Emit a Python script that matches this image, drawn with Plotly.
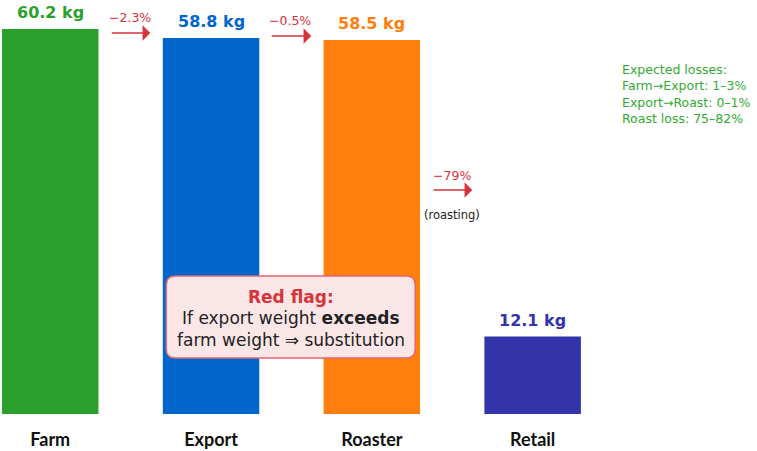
import plotly.graph_objects as go

stages = ["Farm", "Export", "Roaster", "Retail"]
weights = [60.2, 58.8, 58.5, 12.1]
colors = ["#2ca02c", "#0066cc", "#ff7f0e", "#3333aa"]
label_texts = ["60.2 kg", "58.8 kg", "58.5 kg", "12.1 kg"]
loss_labels = ["\u22122.3%", "\u22120.5%", "\u221279%"]
expected_lines = ["Expected losses:", "Farm\u2192Export: 1\u20133%", "Export\u2192Roast: 0\u20131%", "Roast loss: 75\u201382%"]
flag_lines = ["<b>Red flag:</b>", "If export weight <b>exceeds</b>", "farm weight \u21d2 substitution"]

W, H = 757, 451
ml, mr, mt, mb = 2, 0, 0, 37
spacing = 160.8
x0 = -0.3
x1 = x0 + (W - ml - mr) / spacing
ppy = 6.395
y1 = (H - mt - mb) / ppy

def X(p):
    return (p - 50) / spacing

def Y(p):
    return (414 - p) / ppy

xs = list(range(len(stages)))
fig = go.Figure()
fig.add_trace(go.Bar(x=xs, y=weights, marker=dict(color=colors, line=dict(width=0)), width=0.6, hoverinfo="skip"))

FONT = "DejaVu Sans"
ann = []
for i, (w, t, c) in enumerate(zip(weights, label_texts, colors)):
    ann.append(dict(x=i, y=w, text=f"<b>{t}</b>", showarrow=False, yanchor="bottom", yshift=5,
                    font=dict(family=FONT, size=16, color=c)))

arrows = [((110, 150, 33), (130, 17)), ((270, 311, 36), (290, 20)), ((432, 472, 190), (452, 175))]
for lab, ((ta, hd, ay), (lx, ly)) in zip(loss_labels, arrows):
    ann.append(dict(x=X(hd), y=Y(ay), ax=X(ta), ay=Y(ay), xref="x", yref="y", axref="x", ayref="y",
                    showarrow=True, arrowhead=1, arrowsize=1.6, arrowwidth=1.6, arrowcolor="#d9333a", text=""))
    ann.append(dict(x=X(lx), y=Y(ly), text=lab, showarrow=False, font=dict(family=FONT, size=12.5, color="#d9333a")))
ann.append(dict(x=X(452), y=Y(215), text="(roasting)", showarrow=False, font=dict(family=FONT, size=11.5, color="#222")))

for k, line in enumerate(expected_lines):
    ann.append(dict(x=X(620), y=Y(69 + k * 16.5), text=line, showarrow=False, xanchor="left",
                    font=dict(family=FONT, size=12.5, color="#33aa33")))

# red flag box
bx0, bx1, by0, by1 = X(166), X(415), Y(358), Y(276)
rx, ry = 9 / spacing, 9 / ppy
path = (f"M {bx0+rx},{by0} L {bx1-rx},{by0} Q {bx1},{by0} {bx1},{by0+ry} L {bx1},{by1-ry} "
        f"Q {bx1},{by1} {bx1-rx},{by1} L {bx0+rx},{by1} Q {bx0},{by1} {bx0},{by1-ry} "
        f"L {bx0},{by0+ry} Q {bx0},{by0} {bx0+rx},{by0} Z")
shapes = [dict(type="path", path=path, xref="x", yref="y", fillcolor="#fbe6e7",
               line=dict(color="#e06670", width=1.5), layer="above")]
flag_y = [297, 318, 340]
flag_col = ["#d9333a", "#222", "#222"]
for line, py, c in zip(flag_lines, flag_y, flag_col):
    ann.append(dict(x=X(290.5), y=Y(py), text=line, showarrow=False, font=dict(family=FONT, size=17, color=c)))

fig.update_layout(
    width=W, height=H, margin=dict(l=ml, r=mr, t=mt, b=mb),
    paper_bgcolor="white", plot_bgcolor="white", showlegend=False,
    xaxis=dict(range=[x0, x1], tickvals=xs, ticktext=[f"<b>{s}</b>" for s in stages], showgrid=False,
               zeroline=False, showline=False, ticks="", ticklabelstandoff=13,
               tickfont=dict(family="Lato", size=18, color="#111")),
    yaxis=dict(range=[0, y1], visible=False, showgrid=False, zeroline=False),
    annotations=ann, shapes=shapes,
)
fig.write_html("out.html")
